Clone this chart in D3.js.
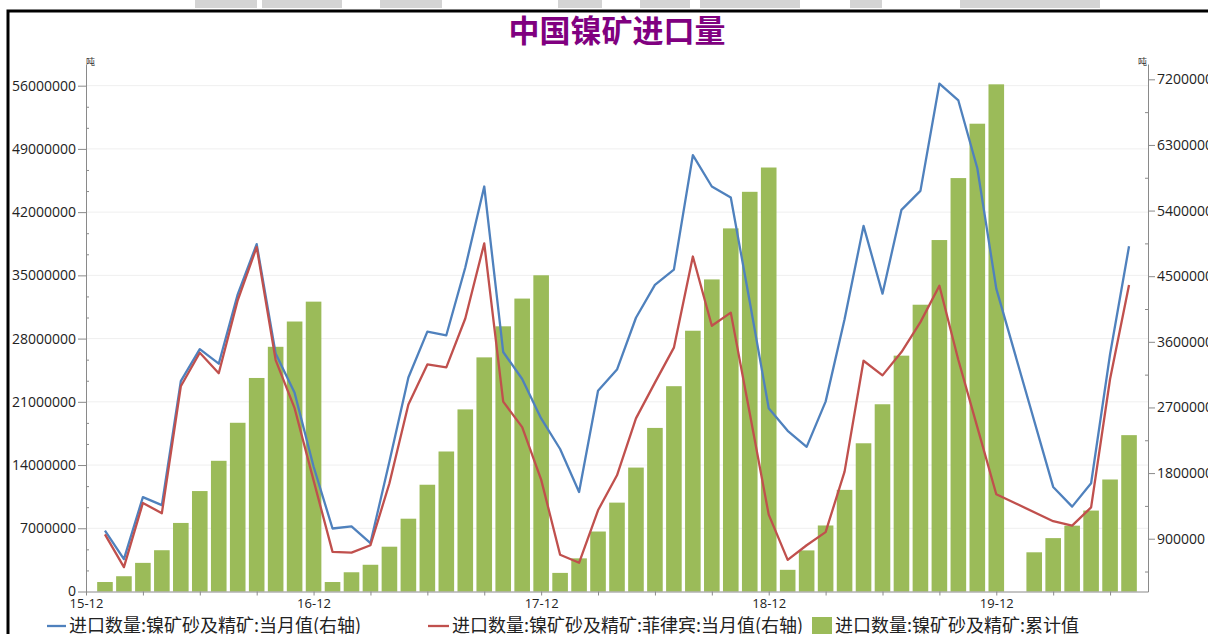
<!DOCTYPE html>
<html><head><meta charset="utf-8">
<script src="https://cdn.jsdelivr.net/npm/d3@7"></script>
<style>
body{margin:0;background:#fff;overflow:hidden}
svg{display:block}
.ax text{font-family:"Open Sans","Noto Sans",sans-serif;fill:#222}
</style>
</head><body>
<svg id="c" width="1208" height="634"></svg>
<script>
// ---- data ----
const categories = [
 "2016-01","2016-02","2016-03","2016-04","2016-05","2016-06","2016-07","2016-08","2016-09","2016-10","2016-11","2016-12",
 "2017-01","2017-02","2017-03","2017-04","2017-05","2017-06","2017-07","2017-08","2017-09","2017-10","2017-11","2017-12",
 "2018-01","2018-02","2018-03","2018-04","2018-05","2018-06","2018-07","2018-08","2018-09","2018-10","2018-11","2018-12",
 "2019-01","2019-02","2019-03","2019-04","2019-05","2019-06","2019-07","2019-08","2019-09","2019-10","2019-11","2019-12",
 "2020-01","2020-02","2020-03","2020-04","2020-05","2020-06","2020-07"
];
// 进口数量:镍矿砂及精矿:累计值 (左轴, 吨)
const cumulative = [
 1050000,1690000,3170000,4570000,7590000,11120000,14470000,18680000,23640000,27090000,29890000,32090000,
 1050000,2130000,2960000,4960000,8060000,11820000,15500000,20160000,25920000,29360000,32430000,35010000,
 2060000,3670000,6640000,9840000,13720000,18110000,22730000,28870000,34550000,40200000,44250000,46940000,
 2400000,4550000,7310000,11250000,16410000,20730000,26110000,31750000,38910000,45770000,51790000,56150000,
 null,4340000,5910000,7290000,8960000,12400000,17310000
];
// 进口数量:镍矿砂及精矿:当月值 (右轴, 吨)
const monthlyTotal = [
 1010000,620000,1470000,1360000,3060000,3500000,3300000,4250000,4940000,3440000,2900000,1890000,
 1040000,1070000,840000,1960000,3110000,3740000,3690000,4620000,5730000,3460000,3090000,2550000,
 2130000,1540000,2930000,3220000,3930000,4380000,4590000,6160000,5730000,5580000,4150000,2690000,
 2380000,2160000,2780000,3910000,5190000,4260000,5410000,5670000,7140000,6910000,5980000,4330000,
 null,null,1610000,1340000,1660000,3430000,4910000
];
// 进口数量:镍矿砂及精矿:菲律宾:当月值 (右轴, 吨)
const monthlyPhilippines = [
 960000,510000,1390000,1250000,2990000,3450000,3170000,4170000,4900000,3350000,2690000,1700000,
 720000,710000,810000,1660000,2740000,3290000,3250000,3920000,4950000,2780000,2430000,1710000,
 680000,570000,1290000,1770000,2550000,3040000,3520000,4770000,3820000,4000000,2620000,1230000,
 610000,810000,990000,1820000,3340000,3140000,3460000,3870000,4370000,3350000,2430000,1510000,
 null,null,1140000,1080000,1330000,3090000,4380000
];
const xTickLabels = ["15-12","16-12","17-12","18-12","19-12"];
const leftTicks = [0,7000000,14000000,21000000,28000000,35000000,42000000,49000000,56000000];
const rightTicks = [900000,1800000,2700000,3600000,4500000,5400000,6300000,7200000];
const seriesNames = ["进口数量:镍矿砂及精矿:当月值(右轴)","进口数量:镍矿砂及精矿:菲律宾:当月值(右轴)","进口数量:镍矿砂及精矿:累计值"];
const titleText = "中国镍矿进口量";
const unitText = "吨";

// ---- layout ----
const svg = d3.select("#c");
const L = 86, R = 1148, T = 64, B = 591.5;
const cjk = '"Noto Sans CJK SC","Noto Sans",sans-serif';
const blue = "#4F81BD", red = "#C0504D", green = "#9BBB59", axisCol = "#8a8a8a";

// month index: 0 = 2015-12
const idx = c => { const [y,m] = c.split("-").map(Number); return (y-2015)*12 + m - 12; };

const x = d3.scaleLinear().domain([0,56]).range([L,R]);
const yL = d3.scaleLinear().domain([0,58400000]).range([B,T]);
const yR = d3.scaleLinear().domain([176000,7410000]).range([B,T]);

// watermark remnants at top
const wm = [[195,62],[262,80],[380,62],[558,44],[640,50],[700,100],[850,32],[960,140]];
svg.selectAll("rect.wm").data(wm).join("rect").attr("class","wm")
  .attr("x",d=>d[0]).attr("y",0).attr("width",d=>d[1]).attr("height",8).attr("fill","#d4d4d4");

// frame
svg.append("path").attr("d","M8,640V11H1210").attr("fill","none").attr("stroke","#000").attr("stroke-width",3);

// title
svg.append("text").attr("x",617).attr("y",42).attr("text-anchor","middle")
  .attr("font-family",cjk).attr("font-weight","bold").attr("font-size",31).attr("fill","#800080").text(titleText);

// gridlines
svg.append("g").selectAll("line").data(leftTicks.filter(d=>d>0)).join("line")
  .attr("x1",L).attr("x2",R).attr("y1",d=>yL(d)).attr("y2",d=>yL(d))
  .attr("stroke","#efefef").attr("stroke-width",1);

// bars
const barW = 15.6;
const barData = categories.map((c,i)=>({i:idx(c), v:cumulative[i]})).filter(d=>d.v!=null);
svg.append("g").selectAll("rect").data(barData).join("rect")
  .attr("x",d=>x(d.i)-barW/2).attr("width",barW)
  .attr("y",d=>yL(d.v)).attr("height",d=>yL(0)-yL(d.v))
  .attr("fill",green);

// lines
const line = d3.line().x(d=>x(d.i)).y(d=>yR(d.v));
[[monthlyTotal,blue],[monthlyPhilippines,red]].forEach(([arr,col])=>{
  const pts = categories.map((c,i)=>({i:idx(c), v:arr[i]})).filter(d=>d.v!=null);
  svg.append("path").datum(pts).attr("d",line).attr("fill","none")
    .attr("stroke",col).attr("stroke-width",2.3).attr("stroke-linejoin","round");
});

// axes
function styleAxis(g){
  g.selectAll("path.domain").attr("stroke",axisCol);
  g.selectAll(".tick line").attr("stroke",axisCol);
}
const fmt = d3.format("d");
// left
const gl = svg.append("g").attr("class","ax").attr("transform",`translate(${L},0)`)
  .call(d3.axisLeft(yL).tickValues(leftTicks).tickSize(8).tickSizeOuter(0).tickPadding(2).tickFormat(fmt));
gl.selectAll("text").attr("font-size",14);
styleAxis(gl);
const leftMinor = [];
for (let i=0;i<leftTicks.length-1;i++){ const s=(leftTicks[i+1]-leftTicks[i])/3; leftMinor.push(leftTicks[i]+s, leftTicks[i]+2*s); }
const glm = svg.append("g").attr("transform",`translate(${L},0)`)
  .call(d3.axisLeft(yL).tickValues(leftMinor).tickSize(-3).tickFormat(""));
glm.select("path.domain").remove(); styleAxis(glm);
// right
const gr = svg.append("g").attr("class","ax").attr("transform",`translate(${R},0)`)
  .call(d3.axisRight(yR).tickValues(rightTicks).tickSize(7).tickSizeOuter(0).tickPadding(2).tickFormat(fmt));
gr.selectAll("text").attr("font-size",14);
styleAxis(gr);
const rightMinor = rightTicks.map(d=>d-450000);
const grm = svg.append("g").attr("transform",`translate(${R},0)`)
  .call(d3.axisRight(yR).tickValues(rightMinor).tickSize(-3).tickFormat(""));
grm.select("path.domain").remove(); styleAxis(grm);
// bottom
const xt = d3.range(0,55,3);
const gb = svg.append("g").attr("class","ax").attr("transform",`translate(0,${B})`)
  .call(d3.axisBottom(x).tickValues(xt).tickSize(4).tickSizeOuter(0).tickPadding(3)
    .tickFormat(d => d%12===0 ? xTickLabels[d/12] : ""));
gb.selectAll("text").attr("font-size",13);
styleAxis(gb);

// unit labels
svg.append("text").attr("x",L).attr("y",65).attr("font-family",cjk).attr("font-size",9).attr("fill","#333").text(unitText);
svg.append("text").attr("x",R-1).attr("y",65).attr("text-anchor","end").attr("font-family",cjk).attr("font-size",9).attr("fill","#333").text(unitText);

// legend
const lg = svg.append("g").attr("font-family",cjk).attr("font-size",18).attr("fill","#222");
lg.append("line").attr("x1",47).attr("x2",66).attr("y1",626).attr("y2",626).attr("stroke",blue).attr("stroke-width",2.3);
lg.append("text").attr("x",69).attr("y",632).text(seriesNames[0]);
lg.append("line").attr("x1",428).attr("x2",449).attr("y1",626).attr("y2",626).attr("stroke",red).attr("stroke-width",2.3);
lg.append("text").attr("x",452).attr("y",632).text(seriesNames[1]);
lg.append("rect").attr("x",812).attr("y",617).attr("width",20).attr("height",20).attr("fill",green);
lg.append("text").attr("x",835).attr("y",632).text(seriesNames[2]);
</script>
</body></html>
